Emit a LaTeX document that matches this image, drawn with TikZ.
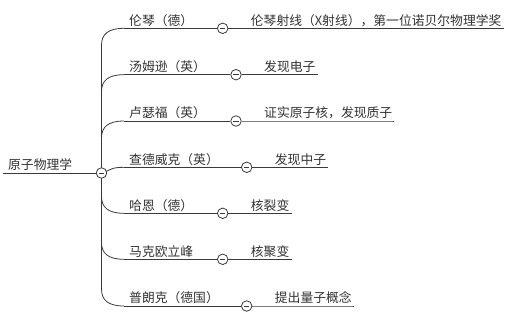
\documentclass[tikz,border=0pt]{standalone}
\usepackage{fontspec}
\setmainfont{Noto Sans CJK SC}
\definecolor{txtc}{HTML}{333333}
\definecolor{linec}{HTML}{3A3A3A}
\newcommand{\mybranch}[5]{%
  \coordinate (#1s) at (124,#2);
  \node[lbl] (#1t) at (129,#2-3.2) {#4};
  \node[tog] (#1c) at (#3,#2) {};
  \node[lbl] (#1ct) at (#3+28,#2-3.2) {#5};
  \draw[ln] (#1s) -- (#1c);
  \draw[ln] (#1c) -- (#1c -| #1ct.east) -- ++(2,0);
}
\newcommand{\upcurve}[2]{%
  \draw[ln] (c0) -- (101.5,#2+17) .. controls (101.5,#2+6) and (108,#2) .. (#1s);
}
\newcommand{\downcurve}[2]{%
  \draw[ln] (c0) -- (101.5,#2-17) .. controls (101.5,#2-6) and (108,#2) .. (#1s);
}
\begin{document}
\begin{tikzpicture}[x=1pt,y=-1pt,
  lbl/.style={font=\fontsize{12.8}{15}\selectfont, text=txtc, inner sep=0pt, anchor=base west},
  ln/.style={draw=linec, line width=0.8pt},
  tog/.style={circle, draw=linec, fill=white, line width=0.8pt, minimum size=10.5pt, inner sep=0pt,
    path picture={\draw[linec, line width=0.8pt] ([xshift=-2.6pt]path picture bounding box.center) -- ([xshift=2.6pt]path picture bounding box.center);}}
]
\fill[white] (0,0) rectangle (514,319);
\useasboundingbox (0,0) rectangle (514,319);

\coordinate (rootL) at (3,173);
\node[lbl] (root) at (8,169.8) {原子物理学};
\coordinate (c0) at (101.5,173);

\mybranch{a}{28.3}{222.7}{伦琴（德）}{伦琴射线（X射线），第一位诺贝尔物理学奖}
\mybranch{b}{74.7}{236}{汤姆逊（英）}{发现电子}
\mybranch{c}{121}{236}{卢瑟福（英）}{证实原子核，发现质子}
\mybranch{d}{167.3}{246.7}{查德威克（英）}{发现中子}
\mybranch{e}{213.3}{222.7}{哈恩（德）}{核裂变}
\mybranch{f}{259.3}{222.7}{马克欧立峰}{核聚变}
\mybranch{g}{306}{246.7}{普朗克（德国）}{提出量子概念}

\upcurve{a}{28.3}
\upcurve{b}{74.7}
\upcurve{c}{121}
\draw[ln] (c0) .. controls (112,170) and (110,167.3) .. (ds);
\downcurve{e}{213.3}
\downcurve{f}{259.3}
\downcurve{g}{306}

\draw[ln] (rootL) -- (c0);
\node[tog] (c0n) at (c0) {};
\end{tikzpicture}
\end{document}
